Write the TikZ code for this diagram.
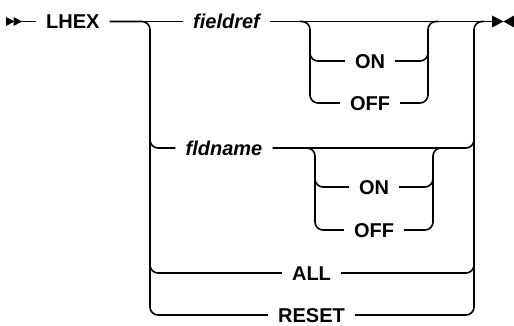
\documentclass[tikz,border=0pt]{standalone}
\usepackage{fontspec}
\setmainfont{Liberation Sans}
\tikzset{
  rail/.style={line width=1.6pt, rounded corners=8pt},
  kw/.style={font=\fontsize{20}{24}\selectfont\bfseries, inner xsep=10pt, inner ysep=0pt, text height=14.4pt, text depth=0pt},
  var/.style={kw, font=\fontsize{20}{24}\selectfont\bfseries\itshape},
  headmark/.style={fill=black, draw=none}
}
\begin{document}
\begin{tikzpicture}[x=1pt,y=1pt]
\useasboundingbox (0,0) rectangle (514,-326);
\node[kw, anchor=west] (LHEX) at (36,-21.5) {LHEX};
\node[var] (fieldref) at (226.5,-21.5) {fieldref};
\node[kw] (on1) at (370,-61) {ON};
\node[kw] (off1) at (370,-103) {OFF};
\node[var] (fldname) at (224,-148) {fldname};
\node[kw] (on2) at (374,-187) {ON};
\node[kw] (off2) at (374,-230) {OFF};
\node[kw] (all) at (311.5,-273) {ALL};
\node[kw] (reset) at (311.5,-315) {RESET};
\coordinate (S) at (21.5,-21.5);
\coordinate (E) at (493,-21.5);
\coordinate (lx) at (150,0);
\coordinate (rx) at (474,0);
\coordinate (a1) at (310,0);
\coordinate (b1) at (428,0);
\coordinate (a2) at (315,0);
\coordinate (b2) at (433,0);
\coordinate (lf) at (150,-128);
\coordinate (la) at (150,-253);
\coordinate (rf) at (474,-128);
\coordinate (ra) at (474,-253);
\coordinate (r0) at (484,-21.5);
\coordinate (p1) at (300,-21.5);
\coordinate (q1) at (438,-21.5);
\coordinate (o1) at (310,-41);
\coordinate (w1) at (428,-41);
\coordinate (p2) at (305,-148);
\coordinate (q2) at (443,-148);
\coordinate (o2) at (315,-167);
\coordinate (w2) at (433,-167);
\fill[headmark] (6,-17) -- (14.5,-21.5) -- (6,-26) -- cycle;
\fill[headmark] (13.5,-17) -- (22,-21.5) -- (13.5,-26) -- cycle;
\fill[headmark] (492,-15.5) -- (503.5,-21.5) -- (492,-27.5) -- cycle;
\fill[headmark] (514,-15.5) -- (503.5,-21.5) -- (514,-27.5) -- cycle;
\draw[rail] (S) -- (LHEX.west);
\draw[rail] (LHEX.east) -- (fieldref.west);
\draw[rail] (fieldref.east) -- (E);
\draw[rail] (LHEX.east) -| (lx |- reset.west) -- (reset.west);
\draw[rail] (lf) |- (fldname.west);
\draw[rail] (la) |- (all.west);
\draw[rail] (reset.east) -| (rx |- E) -- (r0);
\draw[rail] (fldname.east) -| (rf);
\draw[rail] (all.east) -| (ra);
\draw[rail] (p1) -| (a1 |- off1.west) -- (off1.west);
\draw[rail] (o1) |- (on1.west);
\draw[rail] (off1.east) -| (b1 |- E) -- (q1);
\draw[rail] (on1.east) -| (w1);
\draw[rail] (p2) -| (a2 |- off2.west) -- (off2.west);
\draw[rail] (o2) |- (on2.west);
\draw[rail] (off2.east) -| (b2 |- fldname.east) -- (q2);
\draw[rail] (on2.east) -| (w2);
\end{tikzpicture}
\end{document}
